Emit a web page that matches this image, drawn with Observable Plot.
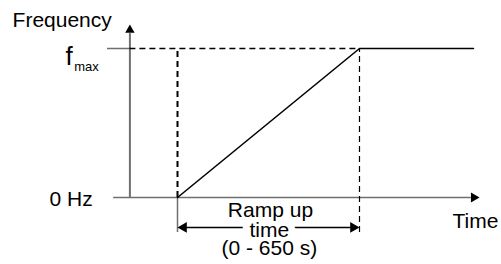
<!DOCTYPE html>
<html>
<head>
<meta charset="utf-8">
<script src="https://cdn.jsdelivr.net/npm/d3@7"></script>
<script src="https://cdn.jsdelivr.net/npm/@observablehq/plot@0.6"></script>
<style>
  html, body { margin: 0; padding: 0; background: #fff; }
  #chart { width: 501px; height: 264px; }
</style>
</head>
<body>
<div id="chart"></div>
<script>
// ---- data (time in seconds, frequency as fraction of fmax) ----
const profileTime = [170, 820, 1227];      // ramp start, ramp end (650 s later), end of plateau
const profileFreq = [0, 1, 1];             // 0 Hz -> fmax -> fmax
const yTickValues = [0, 1];
const yTickLabels = ["0 Hz", "f"];
const fmaxSubscript = "max";
const axisTitleX = "Time";
const axisTitleY = "Frequency";
const rampLabel = ["Ramp up", "time", "(0 - 650 s)"];

const rampStart = profileTime[0], rampEnd = profileTime[1];
const xAxisStart = -58, xAxisEnd = 1249, yAxisTop = 1.16;
const tickStart = -80, belowAxis = -0.235, dimY = -0.201;
const labelX = 498;

const font = "'Liberation Sans', Arial, Helvetica, sans-serif";
const gray = "#6f6f6f";

const profile = profileTime.map((t, i) => ({t, f: profileFreq[i]}));

const plot = Plot.plot({
  width: 501,
  height: 264,
  x: {type: "linear", domain: [0, 1300], range: [129.4, 129.4 + 1300 * 0.28], axis: null},
  y: {type: "linear", domain: [0, 1], range: [197, 48], axis: null},
  style: {fontFamily: font, fontSize: "21px", background: "#fff", overflow: "visible", color: "#000"},
  marks: [
    // axes
    Plot.ruleY([yTickValues[0]], {x1: xAxisStart, x2: xAxisEnd - 30, stroke: gray, strokeWidth: 1.5}),
    Plot.ruleX([0], {y1: yTickValues[0], y2: yAxisTop - 0.06, stroke: gray, strokeWidth: 2}),
    Plot.ruleY([yTickValues[1]], {x1: tickStart, x2: 0, stroke: gray, strokeWidth: 1.5}),
    // dashed guides
    Plot.ruleX([rampStart], {y1: 0, y2: yTickValues[1], stroke: "#000", strokeWidth: 2, strokeDasharray: "6,4"}),
    Plot.ruleY([yTickValues[1]], {x1: 0, x2: rampEnd, stroke: "#000", strokeWidth: 1.4, strokeDasharray: "6,4"}),
    Plot.ruleX([rampEnd], {y1: belowAxis, y2: yTickValues[1], stroke: "#000", strokeWidth: 1.2, strokeDasharray: "6,4"}),
    // dimension line
    Plot.ruleX([rampStart], {y1: belowAxis, y2: 0, stroke: gray, strokeWidth: 1.5}),
    Plot.ruleY([dimY], {x1: rampStart + 20, x2: rampEnd - 20, stroke: "#000", strokeWidth: 1.4}),
    // frequency profile
    Plot.line(profile, {x: "t", y: "f", stroke: "#000", strokeWidth: 1.6}),
    // arrowheads
    Plot.dot([0], {x: xAxisEnd, y: 0, dx: -5.8, symbol: "triangle", r: 3.7, rotate: 90, fill: "#000", stroke: "none"}),
    Plot.dot([0], {x: 0, y: yAxisTop, dy: 5.3, symbol: "triangle", r: 3.5, rotate: 0, fill: "#000", stroke: "none"}),
    Plot.dot([0], {x: rampStart, y: dimY, dx: 6.2, symbol: "triangle", r: 4, rotate: -90, fill: "#000", stroke: "none"}),
    Plot.dot([0], {x: rampEnd, y: dimY, dx: -6.2, symbol: "triangle", r: 4, rotate: 90, fill: "#000", stroke: "none"}),
    // labels
    Plot.text([axisTitleY], {x: -419, y: 1.141, text: d => d, textAnchor: "start", lineAnchor: "bottom", fill: "#000"}),
    Plot.text([axisTitleX], {x: 1152, y: -0.208, text: d => d, textAnchor: "start", lineAnchor: "bottom", fill: "#000"}),
    Plot.text([yTickLabels[0]], {x: -133, y: yTickValues[0] - 0.013, text: d => d, textAnchor: "end", lineAnchor: "middle", fill: "#000"}),
    Plot.text([yTickLabels[1]], {x: -230, y: 0.889, text: d => d, textAnchor: "start", lineAnchor: "bottom", fontSize: 26, fill: "#000"}),
    Plot.text([fmaxSubscript], {x: -199, y: 0.849, text: d => d, textAnchor: "start", lineAnchor: "bottom", fontSize: 13, fill: "#000"}),
    Plot.text([rampLabel[1]], {x: labelX, y: -0.266, text: d => d, lineAnchor: "bottom", fill: "#000", stroke: "#fff", strokeWidth: 14}),
    Plot.text([rampLabel[0]], {x: labelX + 4, y: -0.132, text: d => d, lineAnchor: "bottom", fill: "#000"}),
    Plot.text([rampLabel[2]], {x: labelX, y: -0.385, text: d => d, lineAnchor: "bottom", fill: "#000"})
  ]
});
document.getElementById("chart").appendChild(plot);
</script>
</body>
</html>
